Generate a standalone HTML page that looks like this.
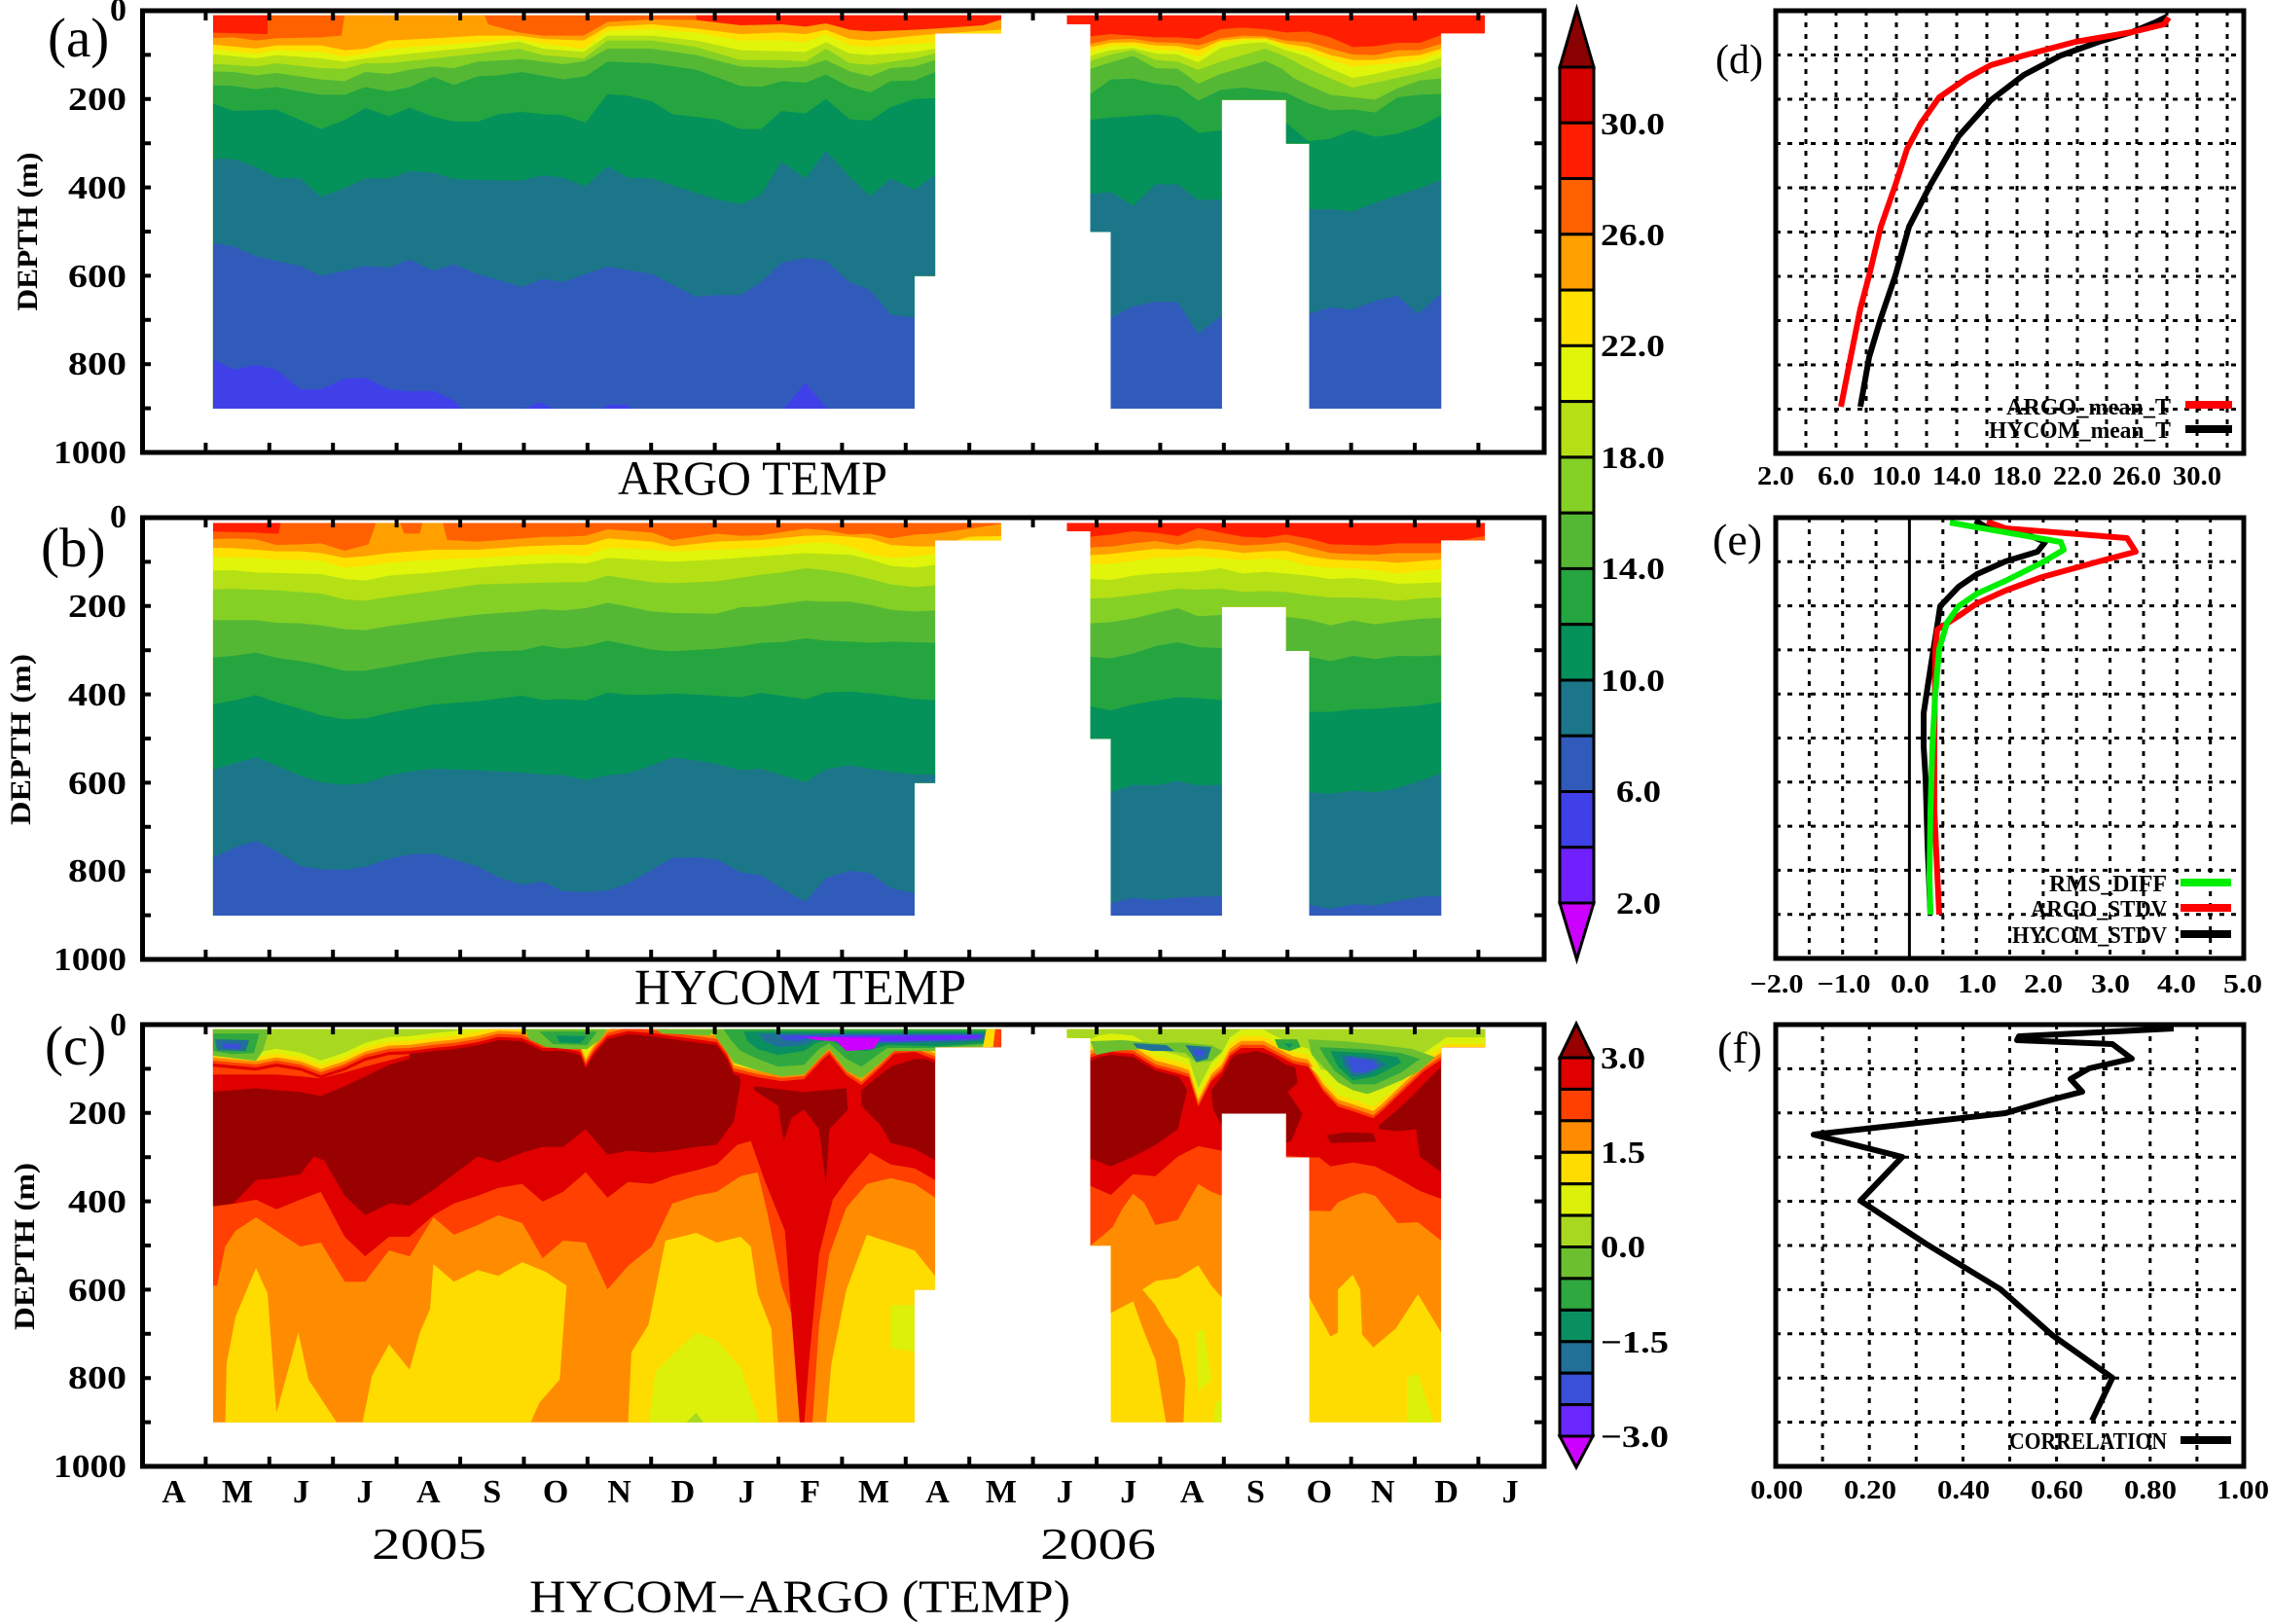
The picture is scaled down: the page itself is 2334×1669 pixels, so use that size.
<!DOCTYPE html>
<html><head><meta charset="utf-8"><style>
html,body{margin:0;padding:0;background:#fff;}
svg{display:block;}
text{font-family:"Liberation Serif",serif;}
</style></head><body>
<svg width="2334" height="1669" viewBox="0 0 2334 1669" xmlns="http://www.w3.org/2000/svg" xmlns:xlink="http://www.w3.org/1999/xlink">
<defs>
<clipPath id="ca1"><polygon points="312,47 1467,47 1467,103 1370,103 1370,851 1340,851 1340,1260 312,1260"/></clipPath>
<clipPath id="ca2"><polygon points="252,47 1375,47 1375,103 1257,103 1257,1260 903,1260 903,443 841,443 841,308 668,308 668,1260 370,1260 370,715 315,715 315,75 252,75"/></clipPath>
<clipPath id="cb1"><polygon points="312,52 1467,52 1467,106 1370,106 1370,854 1340,854 1340,1263 312,1263"/></clipPath>
<clipPath id="cb2"><polygon points="252,52 1375,52 1375,106 1257,106 1257,1263 903,1263 903,447 841,447 841,311 668,311 668,1263 370,1263 370,718 315,718 315,78 252,78"/></clipPath>
<clipPath id="cc1"><polygon points="312,44 1467,44 1467,90 1370,90 1370,711 1340,711 1340,1050 312,1050"/></clipPath>
<clipPath id="cc2"><polygon points="252,44 1375,44 1375,90 1257,90 1257,1050 903,1050 903,372 841,372 841,260 668,260 668,1050 370,1050 370,598 315,598 315,67 252,67"/></clipPath>
<polygon id="s1" points="300,0 300,140 312,140 342,145 375,150 405,140 440,150 470,170 505,150 535,125 570,110 600,108 635,100 665,95 700,85 730,72 765,75 795,100 825,100 850,110 858,145 870,110 890,70 920,57 955,62 985,70 1020,78 1050,85 1065,120 1075,160 1110,175 1145,185 1178,180 1205,130 1215,115 1240,170 1262,195 1290,150 1310,115 1340,110 1370,130 1440,130 1467,90 1480,90 1480,0"/>
<polygon id="s2" points="240,0 240,120 252,120 315,125 340,115 370,110 430,115 490,150 550,165 580,175 605,250 640,185 668,160 690,120 720,100 780,100 820,120 860,140 900,148 940,210 980,250 1020,262 1075,280 1100,260 1160,205 1210,160 1257,130 1270,120 1390,120 1390,0"/>
<g id="axfr">
<rect x="146.5" y="0" width="1440.5" height="454" fill="none" stroke="#000" stroke-width="5"/>
<path stroke="#000" stroke-width="4" fill="none" d="M211.4 0v10M276.8 0v10M342.2 0v10M407.6 0v10M473 0v10M538.4 0v10M603.8 0v10M669.2 0v10M734.6 0v10M800 0v10M865.4 0v10M930.8 0v10M996.2 0v10M1061.6 0v10M1127 0v10M1192.4 0v10M1257.8 0v10M1323.2 0v10M1388.6 0v10M1454 0v10M1519.4 0v10
M211.4 454v-10M276.8 454v-10M342.2 454v-10M407.6 454v-10M473 454v-10M538.4 454v-10M603.8 454v-10M669.2 454v-10M734.6 454v-10M800 454v-10M865.4 454v-10M930.8 454v-10M996.2 454v-10M1061.6 454v-10M1127 454v-10M1192.4 454v-10M1257.8 454v-10M1323.2 454v-10M1388.6 454v-10M1454 454v-10M1519.4 454v-10
M146 45.4h9M146 90.8h9M146 136.2h9M146 181.6h9M146 227h9M146 272.4h9M146 317.8h9M146 363.2h9M146 408.6h9
M1587 45.4h-10M1587 90.8h-10M1587 136.2h-10M1587 181.6h-10M1587 227h-10M1587 272.4h-10M1587 317.8h-10M1587 363.2h-10M1587 408.6h-10"/>
</g>
</defs>
<rect width="2334" height="1669" fill="#fff"/>

<!-- ===== Panel (a) segment 1 ===== -->
<g transform="matrix(0.7015 0 0 0.3333 0 0)"><g clip-path="url(#ca1)">
<rect x="290" y="0" width="1200" height="1400" fill="#ff6000"/>
<polygon fill="#ff1e00" points="300,40 392,40 392,105 300,100"/>
<polygon fill="#ff1e00" points="1020,40 1480,40 1480,70 1440,82 1370,95 1280,112 1240,100 1180,95 1100,102 1050,88 1020,60"/>
<polygon fill="#ffa000" points="300,118 342,115 375,125 405,118 470,115 500,110 505,47 710,47 715,75 760,100 795,110 855,110 890,68 955,60 1020,62 1085,78 1145,75 1180,82 1210,72 1245,92 1275,97 1340,92 1370,88 1440,78 1467,60 1480,55 1480,1400 300,1400"/>
<polygon fill="#ffe000" points="300,135 375,150 405,140 470,140 505,155 535,150 570,125 635,118 700,110 760,110 795,120 855,125 890,82 955,75 1020,88 1085,105 1145,100 1180,105 1210,92 1245,120 1275,125 1340,110 1370,105 1440,95 1480,90 1480,1400 300,1400"/>
<polygon fill="#e0f50a" points="300,150 375,165 405,155 470,160 505,175 535,165 570,150 635,140 700,130 760,120 795,135 855,150 890,95 955,90 1020,100 1085,125 1145,125 1180,130 1210,105 1245,140 1275,145 1340,135 1370,130 1480,130 1480,1400 300,1400"/>
<polygon fill="#b5e015" points="300,165 375,180 405,170 470,180 505,190 535,180 570,172 635,158 700,145 760,128 795,150 855,160 890,110 955,110 1020,125 1085,155 1145,158 1180,160 1210,130 1245,165 1275,170 1340,160 1370,150 1480,150 1480,1400 300,1400"/>
<polygon fill="#85d025" points="300,195 375,205 405,195 470,210 505,212 535,195 570,195 635,180 700,165 760,150 795,170 855,180 890,125 955,125 1020,145 1085,185 1145,185 1180,190 1210,150 1245,195 1275,200 1340,180 1370,165 1480,165 1480,1400 300,1400"/>
<polygon fill="#55b835" points="300,220 342,222 375,232 405,225 470,245 505,250 535,222 570,228 600,215 635,205 665,210 700,190 765,182 825,198 858,188 890,150 955,150 1020,170 1085,205 1145,210 1180,205 1210,185 1245,220 1275,235 1305,210 1340,205 1370,185 1480,185 1480,1400 300,1400"/>
<polygon fill="#25a540" points="300,262 342,265 375,275 405,268 440,282 470,292 505,292 535,268 570,282 600,268 635,237 665,262 700,235 730,232 765,222 825,245 858,235 890,190 955,195 1020,215 1085,265 1115,268 1145,250 1180,255 1210,230 1245,268 1275,285 1305,250 1340,248 1370,222 1480,222 1480,1400 300,1400"/>
<polygon fill="#05915a" points="300,310 342,342 405,338 440,370 470,398 505,370 535,333 570,358 600,332 635,360 665,375 700,375 730,352 765,345 795,352 825,355 858,378 890,290 920,295 955,312 985,352 1050,368 1085,398 1115,398 1145,342 1180,350 1210,305 1245,368 1275,372 1305,330 1340,305 1370,303 1480,303 1480,1400 300,1400"/>
<polygon fill="#1c768a" points="300,490 342,490 375,515 405,548 440,550 470,607 505,580 535,550 570,550 600,528 635,533 665,552 700,555 765,557 795,540 825,548 858,575 890,512 920,548 955,550 1020,595 1050,615 1085,630 1115,600 1145,498 1180,550 1210,465 1245,545 1275,605 1305,550 1340,585 1370,540 1480,540 1480,1400 300,1400"/>
<polygon fill="#305bbb" points="300,745 342,760 375,790 405,805 440,820 470,850 505,835 535,820 570,825 600,800 635,835 665,815 700,845 765,885 795,860 825,870 858,845 890,822 955,845 1020,915 1050,910 1085,910 1115,870 1145,810 1180,795 1210,805 1245,870 1275,895 1305,970 1340,980 1480,980 1480,1400 300,1400"/>
<polygon fill="#4040e8" points="300,1095 342,1140 375,1125 405,1140 440,1200 470,1200 505,1168 535,1165 570,1200 600,1207 635,1205 665,1235 680,1268 760,1268 790,1240 820,1268 880,1268 890,1248 920,1248 925,1268 1145,1268 1180,1180 1215,1268 1480,1268 1480,1400 300,1400"/>
</g></g>

<!-- ===== Panel (a) segment 2 ===== -->
<g transform="matrix(0.3827 0 0 0.3333 1000 0)"><g clip-path="url(#ca2)">
<rect x="240" y="0" width="1160" height="1400" fill="#ff1e00"/>
<polygon fill="#ff6000" points="240,103 315,112 370,105 430,110 490,115 550,115 605,120 665,90 725,85 785,90 840,100 900,97 960,115 1020,145 1080,142 1140,132 1200,132 1257,108 1390,108 1390,1400 240,1400"/>
<polygon fill="#ffa000" points="240,135 315,135 370,122 430,120 490,130 550,132 605,140 665,118 725,110 785,112 840,125 900,130 960,150 1020,168 1080,170 1140,155 1200,155 1257,135 1390,135 1390,1400 240,1400"/>
<polygon fill="#ffe000" points="240,145 315,145 370,132 430,130 490,140 550,142 605,155 665,125 725,118 785,118 840,135 900,145 960,170 1020,185 1080,185 1140,175 1200,170 1257,150 1390,150 1390,1400 240,1400"/>
<polygon fill="#e0f50a" points="240,158 315,158 370,142 430,140 490,155 550,155 605,175 665,132 725,124 785,122 840,145 900,160 960,185 1020,205 1080,200 1140,195 1200,185 1257,160 1390,160 1390,1400 240,1400"/>
<polygon fill="#b5e015" points="240,172 315,172 370,155 430,148 490,165 550,168 605,192 665,148 725,135 785,130 840,155 900,175 960,212 1020,240 1080,228 1140,212 1200,200 1257,178 1390,178 1390,1400 240,1400"/>
<polygon fill="#85d025" points="240,188 315,188 370,168 430,155 490,185 550,190 605,215 665,190 725,170 785,150 840,175 900,212 960,242 1020,270 1080,255 1140,240 1200,225 1257,205 1390,205 1390,1400 240,1400"/>
<polygon fill="#55b835" points="240,212 315,212 370,192 430,172 490,210 550,212 605,258 665,228 725,208 785,188 830,212 860,240 900,262 960,292 1020,300 1080,307 1140,272 1200,248 1257,242 1390,242 1390,1400 240,1400"/>
<polygon fill="#25a540" points="240,290 315,290 370,245 430,242 490,258 550,265 605,310 665,277 725,270 785,278 840,285 900,318 960,340 1020,337 1080,347 1140,300 1200,292 1257,290 1390,290 1390,1400 240,1400"/>
<polygon fill="#05915a" points="240,370 315,370 370,362 430,358 490,352 550,362 605,410 665,402 760,390 841,378 900,435 960,428 1020,400 1080,422 1140,412 1200,390 1257,355 1390,355 1390,1400 240,1400"/>
<polygon fill="#1c768a" points="240,598 315,598 370,592 430,635 490,568 550,568 605,617 665,615 780,630 903,645 960,645 1020,652 1080,625 1140,602 1200,580 1257,555 1390,555 1390,1400 240,1400"/>
<polygon fill="#305bbb" points="240,980 370,980 430,945 490,930 550,932 605,1030 665,975 780,970 903,968 960,948 1020,955 1080,928 1140,912 1195,968 1257,905 1390,905 1390,1400 240,1400"/>
</g></g>

<!-- ===== Panel (b) segment 1 ===== -->
<g transform="matrix(0.7015 0 0 0.3333 0 520)"><g clip-path="url(#cb1)">
<rect x="290" y="0" width="1200" height="1400" fill="#ff6000"/>
<polygon fill="#ff1e00" points="300,45 412,45 408,86 375,82 300,78"/>
<polygon fill="#ffa000" points="300,103 342,100 375,103 405,120 440,118 470,115 505,138 540,118 552,45 648,45 655,105 700,110 765,100 795,95 825,95 858,92 890,72 955,82 985,105 1050,85 1085,92 1115,90 1180,70 1210,75 1245,88 1275,85 1305,100 1340,88 1370,85 1420,70 1467,55 1480,55 1480,1400 300,1400"/>
<polygon fill="#ff6000" points="585,45 620,45 615,85 592,85"/>
<polygon fill="#ffe000" points="300,128 342,130 375,135 405,140 440,140 470,145 505,160 535,155 570,145 635,135 700,135 765,125 825,120 858,120 890,100 955,110 985,125 1050,110 1115,105 1180,92 1210,90 1245,95 1275,100 1305,120 1340,125 1370,125 1420,95 1480,92 1480,1400 300,1400"/>
<polygon fill="#e0f50a" points="300,155 342,158 375,160 405,165 470,168 505,190 535,185 570,175 635,165 700,160 765,152 825,148 858,155 890,128 955,135 985,140 1050,135 1115,130 1180,115 1210,112 1245,125 1275,150 1305,160 1340,155 1370,148 1480,148 1480,1400 300,1400"/>
<polygon fill="#b5e015" points="300,200 342,198 375,205 470,210 505,225 535,230 570,215 635,205 700,190 765,180 825,175 858,178 890,160 955,168 985,172 1050,165 1115,155 1180,145 1210,148 1245,150 1275,165 1305,185 1340,190 1370,182 1480,182 1480,1400 300,1400"/>
<polygon fill="#85d025" points="300,258 342,255 375,258 405,260 470,270 505,288 535,292 570,280 635,262 700,242 765,238 825,235 858,235 890,215 955,235 985,238 1050,232 1115,212 1145,205 1180,192 1210,198 1245,210 1275,225 1305,242 1340,250 1370,245 1480,245 1480,1400 300,1400"/>
<polygon fill="#55b835" points="300,352 375,352 405,360 440,362 470,368 505,380 535,383 570,370 635,352 700,335 765,325 795,318 825,322 858,315 890,298 955,325 985,330 1050,332 1085,312 1115,310 1180,292 1210,295 1245,295 1275,305 1305,320 1340,325 1370,322 1480,322 1480,1400 300,1400"/>
<polygon fill="#25a540" points="300,470 342,462 375,452 405,468 440,478 470,490 505,508 535,508 570,495 635,470 700,450 765,445 795,430 825,440 858,432 890,415 955,443 985,448 1050,440 1085,432 1115,422 1145,420 1180,408 1210,415 1245,418 1275,422 1305,418 1340,420 1370,422 1480,422 1480,1400 300,1400"/>
<polygon fill="#05915a" points="300,615 342,600 375,583 405,605 440,625 470,645 505,658 535,655 570,638 635,612 700,602 765,585 795,598 825,595 858,600 890,575 920,582 955,582 985,578 1050,585 1085,590 1115,576 1145,585 1180,596 1210,575 1245,572 1275,578 1305,585 1340,595 1370,598 1480,598 1480,1400 300,1400"/>
<polygon fill="#1c768a" points="300,820 342,795 375,775 405,800 440,832 470,852 505,860 535,855 570,830 600,820 635,810 700,815 765,822 795,828 825,830 858,845 890,830 920,825 955,800 985,775 1020,785 1050,795 1085,815 1115,810 1145,830 1180,852 1210,812 1245,800 1275,810 1305,820 1340,828 1480,828 1480,1400 300,1400"/>
<polygon fill="#305bbb" points="300,1097 342,1055 375,1032 405,1065 440,1110 470,1120 505,1122 535,1112 570,1088 600,1075 635,1072 665,1090 700,1112 730,1145 765,1168 795,1158 825,1188 858,1190 890,1185 920,1165 955,1122 985,1085 1020,1083 1050,1090 1085,1130 1115,1138 1145,1180 1180,1220 1210,1148 1245,1125 1275,1132 1305,1178 1340,1195 1480,1195 1480,1400 300,1400"/>
</g></g>

<!-- ===== Panel (b) segment 2 ===== -->
<g transform="matrix(0.3827 0 0 0.3333 1000 520)"><g clip-path="url(#cb2)">
<rect x="240" y="0" width="1160" height="1400" fill="#ff1e00"/>
<polygon fill="#ff6000" points="240,78 315,95 370,88 430,78 490,83 550,93 605,68 665,82 725,95 785,98 840,88 900,100 960,118 1020,120 1080,122 1140,115 1200,115 1257,115 1320,104 1375,92 1390,92 1390,1400 240,1400"/>
<polygon fill="#ffa000" points="240,128 315,128 370,125 430,115 490,108 550,120 605,105 665,112 725,122 785,118 840,112 900,128 960,145 1020,148 1080,150 1140,145 1200,145 1257,145 1390,145 1390,1400 240,1400"/>
<polygon fill="#ffe000" points="240,152 315,152 370,148 430,140 490,132 550,135 605,130 665,135 725,145 785,140 840,138 900,155 960,165 1020,168 1080,170 1140,175 1200,170 1257,165 1390,165 1390,1400 240,1400"/>
<polygon fill="#e0f50a" points="240,180 315,180 370,178 430,170 490,160 550,158 605,155 665,160 725,168 785,162 840,165 900,185 960,190 1020,192 1080,198 1140,208 1200,200 1257,195 1390,195 1390,1400 240,1400"/>
<polygon fill="#b5e015" points="240,225 315,225 370,228 430,215 490,208 550,205 605,202 665,192 725,208 785,203 840,208 900,215 960,225 1020,222 1080,228 1140,240 1200,238 1257,235 1390,235 1390,1400 240,1400"/>
<polygon fill="#85d025" points="240,285 315,285 370,283 430,275 490,265 550,255 605,258 665,255 725,265 785,262 840,265 900,275 960,282 1020,282 1080,285 1140,292 1200,285 1257,282 1390,282 1390,1400 240,1400"/>
<polygon fill="#55b835" points="240,362 315,362 370,358 430,347 490,330 550,315 605,340 665,336 841,342 900,350 960,368 1020,353 1080,365 1140,356 1200,348 1257,345 1390,345 1390,1400 240,1400"/>
<polygon fill="#25a540" points="240,465 315,465 370,470 430,455 490,432 550,420 605,435 665,438 841,445 903,465 960,478 1020,462 1080,472 1140,462 1200,463 1257,460 1390,460 1390,1400 240,1400"/>
<polygon fill="#05915a" points="240,618 315,618 370,630 430,612 490,600 550,590 605,592 665,598 903,635 960,635 1020,627 1080,625 1140,620 1200,615 1257,605 1390,605 1390,1400 240,1400"/>
<polygon fill="#1c768a" points="240,883 370,883 430,860 490,862 550,848 605,862 665,860 903,883 960,888 1020,878 1080,883 1140,870 1200,848 1257,825 1390,825 1390,1400 240,1400"/>
<polygon fill="#305bbb" points="240,1225 370,1225 430,1208 490,1215 550,1208 605,1205 665,1203 903,1230 960,1242 1020,1228 1080,1232 1140,1218 1200,1205 1257,1203 1390,1203 1390,1400 240,1400"/>
</g></g>

<!-- ===== Panel (c) segment 1 ===== -->
<g transform="matrix(0.7015 0 0 0.4018 0 1040)"><g clip-path="url(#cc1)">
<rect x="290" y="0" width="1200" height="1100" fill="#ff8c00"/>
<polygon fill="#ffdc00" points="330,1060 332,900 345,780 375,655 392,720 405,1025 420,930 437,820 452,940 497,1060"/>
<polygon fill="#ffdc00" points="530,1060 545,930 570,850 600,915 615,820 630,760 635,645 665,690 700,660 730,675 765,640 800,665 830,700 820,940 790,1000 775,1060"/>
<polygon fill="#ffdc00" points="920,1060 925,870 950,800 975,585 1020,565 1050,590 1085,575 1100,600 1110,720 1130,810 1140,1060"/>
<polygon fill="#ffdc00" points="1210,1060 1218,900 1240,710 1270,570 1305,590 1340,610 1372,680 1372,1060"/>
<polygon fill="#dcf00a" points="950,1060 960,920 1020,820 1050,840 1085,910 1115,1060"/>
<polygon fill="#dcf00a" points="1305,750 1345,750 1345,870 1305,860"/>
<polygon fill="#a8d820" points="1000,1060 1020,1025 1035,1060"/>
<polygon fill="#ff4000" points="300,0 1480,0 1480,475 1370,475 1340,440 1305,425 1270,440 1240,500 1215,620 1200,800 1190,1060 1178,1060 1165,800 1145,700 1125,520 1110,410 1085,420 1050,460 1020,470 985,490 955,600 920,650 890,710 858,590 825,585 795,630 765,540 730,520 700,545 665,570 635,525 600,625 570,610 535,690 505,690 470,590 440,600 405,560 375,525 345,560 330,600 318,700 300,700"/>
<polygon fill="#e00000" points="300,0 1480,0 1480,430 1370,430 1340,400 1305,390 1275,360 1245,420 1220,480 1200,620 1185,900 1178,1060 1172,1060 1150,560 1120,430 1100,330 1080,340 1050,390 1020,405 985,420 955,440 920,435 890,475 858,410 825,460 795,485 765,440 730,450 700,470 665,490 635,520 600,575 570,575 535,625 505,575 470,460 440,480 405,505 375,480 345,490 300,500"/>
<polygon fill="#990000" points="300,0 1080,0 1080,140 1085,180 1075,280 1050,340 1020,345 985,355 955,360 920,355 890,365 858,300 825,345 795,345 765,360 730,385 700,370 665,415 635,455 600,495 570,490 535,520 505,470 475,380 460,370 440,415 405,425 375,430 342,490 300,500"/>
<polygon fill="#990000" points="1105,190 1178,205 1240,195 1242,250 1215,300 1210,440 1200,300 1178,250 1160,270 1148,330 1140,240 1105,200"/>
<polygon fill="#990000" points="1262,200 1290,160 1305,140 1340,120 1480,120 1480,380 1370,380 1340,350 1305,335 1290,290 1262,240"/>
<polygon fill="#e00000" points="300,130 600,100 600,120 570,135 535,165 505,190 470,215 440,205 405,200 375,195 342,200 300,205"/>
<polygon fill="#ff4000" points="300,130 600,100 600,110 535,140 505,155 470,170 440,165 405,160 375,160 342,160 300,160"/>
<use xlink:href="#s1" fill="#e00000"/>
<use xlink:href="#s1" fill="#ff4000" transform="translate(0,-8)"/>
<use xlink:href="#s1" fill="#ff8c00" transform="translate(0,-16)"/>
<use xlink:href="#s1" fill="#ffdc00" transform="translate(0,-24)"/>
<use xlink:href="#s1" fill="#dcf00a" transform="translate(0,-34)"/>
<use xlink:href="#s1" fill="#a8d820" transform="translate(0,-46)"/>
<polygon fill="#6cc030" points="312,44 395,44 385,100 375,125 340,118 312,112"/>
<polygon fill="#30a840" points="312,55 380,55 372,105 340,108 312,100"/>
<polygon fill="#207098" points="315,70 365,72 360,100 318,98"/>
<polygon fill="#3a50d8" points="325,80 355,82 350,95 328,93"/>
<polygon fill="#6cc030" points="770,44 890,44 880,70 860,95 830,95 800,90 775,70"/>
<polygon fill="#30a840" points="790,50 875,50 860,85 810,82"/>
<polygon fill="#0a9060" points="815,60 860,62 850,80 820,78"/>
<polygon fill="#6cc030" points="960,44 1050,44 1040,60 970,55"/>
<polygon fill="#6cc030" points="1040,44 1467,44 1467,85 1370,100 1310,100 1290,130 1262,170 1240,150 1215,95 1205,110 1178,160 1145,165 1110,150 1075,130 1060,90"/>
<polygon fill="#30a840" points="1060,44 1467,44 1460,80 1370,92 1300,92 1262,140 1240,120 1215,80 1200,95 1178,135 1140,140 1110,120 1085,100 1070,70"/>
<polygon fill="#0a9060" points="1090,50 1460,50 1450,78 1370,88 1300,85 1270,100 1240,95 1215,70 1195,80 1178,100 1140,110 1110,95 1095,75"/>
<polygon fill="#207098" points="1110,55 1450,55 1445,72 1400,78 1300,80 1240,85 1215,62 1195,70 1178,85 1140,90 1120,75"/>
<polygon fill="#3a50d8" points="1140,60 1440,58 1435,70 1300,78 1240,80 1215,58 1195,62 1170,75 1150,72"/>
<polygon fill="#6a28ff" points="1160,62 1440,60 1430,68 1300,75 1240,75 1210,62 1180,68"/>
<polygon fill="#cc00ff" points="1180,64 1290,66 1280,95 1240,100 1225,75 1195,72"/>
<polygon fill="#ffdc00" points="1445,44 1467,44 1467,90 1440,90"/>
<polygon fill="#ff4000" points="1458,44 1467,44 1467,90 1455,90"/>
</g></g>

<!-- ===== Panel (c) segment 2 ===== -->
<g transform="matrix(0.3827 0 0 0.4018 1000 1040)"><g clip-path="url(#cc2)">
<rect x="240" y="0" width="1160" height="1100" fill="#ffdc00"/>
<polygon fill="#ff8c00" points="240,0 1390,0 1390,820 1257,820 1195,722 1135,810 1075,858 1045,825 1040,710 1020,672 980,710 980,820 960,830 903,730 668,730 640,700 605,648 550,680 490,688 455,710 430,740 370,770 315,598 240,598"/>
<polygon fill="#ff8c00" points="430,740 455,710 490,750 520,800 550,840 570,940 565,1060 520,1060 490,890 460,820"/>
<polygon fill="#dcf00a" points="600,820 620,810 640,940 605,970"/>
<polygon fill="#dcf00a" points="1165,935 1195,925 1240,1060 1165,1060"/>
<polygon fill="#dcf00a" points="650,1000 668,990 668,1060 645,1060"/>
<polygon fill="#ff4000" points="240,0 1390,0 1390,585 1257,585 1195,538 1140,540 1110,505 1080,470 1050,462 1020,470 980,487 960,510 903,508 668,470 640,460 605,440 550,532 490,545 460,488 430,465 400,505 375,550 345,575 315,598 240,598"/>
<polygon fill="#e00000" points="240,0 1390,0 1390,478 1257,478 1200,458 1140,425 1080,395 1020,385 960,395 930,372 903,372 668,355 605,343 550,370 490,420 430,415 370,468 315,445 240,445"/>
<polygon fill="#990000" points="315,100 370,100 430,100 490,140 550,160 575,200 560,260 550,300 490,340 430,370 370,395 315,375"/>
<polygon fill="#990000" points="640,200 668,165 700,110 760,100 800,110 840,135 865,140 872,180 845,205 885,260 855,330 841,335 841,260 668,260 668,290 645,250"/>
<polygon fill="#990000" points="950,315 1000,308 1075,310 1082,332 960,335"/>
<polygon fill="#990000" points="1090,290 1140,250 1180,215 1220,175 1257,140 1257,410 1200,370 1190,300 1140,305 1090,300"/>
<use xlink:href="#s2" fill="#e00000"/>
<use xlink:href="#s2" fill="#ff4000" transform="translate(0,-8)"/>
<use xlink:href="#s2" fill="#ff8c00" transform="translate(0,-16)"/>
<use xlink:href="#s2" fill="#ffdc00" transform="translate(0,-26)"/>
<use xlink:href="#s2" fill="#dcf00a" transform="translate(0,-38)"/>
<use xlink:href="#s2" fill="#a8d820" transform="translate(0,-55)"/>
<polygon fill="#dcf00a" points="903,140 960,190 1020,225 1075,235 1110,215 1150,185 1090,170 1000,160"/>
<polygon fill="#6cc030" points="315,75 400,72 490,80 560,78 640,85 670,100 640,125 600,130 570,105 520,100 450,95 380,100 330,110"/>
<polygon fill="#207098" points="430,80 520,85 540,100 480,100 440,92"/>
<polygon fill="#207098" points="570,85 640,90 630,120 600,128 585,105"/>
<polygon fill="#3a50d8" points="590,95 625,98 615,115 598,112"/>
<polygon fill="#30a840" points="810,70 870,70 880,90 850,100 820,92"/>
<polygon fill="#0a9060" points="835,80 860,82 850,92"/>
<polygon fill="#6cc030" points="900,70 1000,75 1100,85 1180,95 1240,115 1200,150 1150,175 1100,195 1060,210 1020,200 980,180 940,140 910,110"/>
<polygon fill="#30a840" points="930,90 1050,95 1150,105 1200,120 1150,155 1080,185 1020,185 970,150 945,115"/>
<polygon fill="#0a9060" points="960,100 1060,105 1140,115 1150,130 1080,165 1020,175 980,140"/>
<polygon fill="#207098" points="990,110 1080,118 1110,135 1060,160 1020,165 995,135"/>
<polygon fill="#3a50d8" points="1005,115 1075,125 1090,140 1050,155 1020,155"/>
</g></g>

<!-- frames for a, b, c -->
<use xlink:href="#axfr" transform="translate(0,11)"/>
<use xlink:href="#axfr" transform="translate(0,532)"/>
<use xlink:href="#axfr" transform="translate(0,1053)"/>

<!-- y labels -->
<g font-size="34" font-weight="bold" text-anchor="end">
<text x="130" y="21">0</text>
<text x="130" y="113" textLength="60" lengthAdjust="spacingAndGlyphs">200</text>
<text x="130" y="204" textLength="60" lengthAdjust="spacingAndGlyphs">400</text>
<text x="130" y="295" textLength="60" lengthAdjust="spacingAndGlyphs">600</text>
<text x="130" y="385" textLength="60" lengthAdjust="spacingAndGlyphs">800</text>
<text x="130" y="476" textLength="75" lengthAdjust="spacingAndGlyphs">1000</text>
<text x="130" y="542">0</text>
<text x="130" y="634" textLength="60" lengthAdjust="spacingAndGlyphs">200</text>
<text x="130" y="725" textLength="60" lengthAdjust="spacingAndGlyphs">400</text>
<text x="130" y="816" textLength="60" lengthAdjust="spacingAndGlyphs">600</text>
<text x="130" y="906" textLength="60" lengthAdjust="spacingAndGlyphs">800</text>
<text x="130" y="997" textLength="75" lengthAdjust="spacingAndGlyphs">1000</text>
<text x="130" y="1064">0</text>
<text x="130" y="1155" textLength="60" lengthAdjust="spacingAndGlyphs">200</text>
<text x="130" y="1246" textLength="60" lengthAdjust="spacingAndGlyphs">400</text>
<text x="130" y="1337" textLength="60" lengthAdjust="spacingAndGlyphs">600</text>
<text x="130" y="1427" textLength="60" lengthAdjust="spacingAndGlyphs">800</text>
<text x="130" y="1518" textLength="75" lengthAdjust="spacingAndGlyphs">1000</text>
</g>
<g font-size="30" font-weight="bold" text-anchor="middle">
<text transform="translate(38,238) rotate(-90)" textLength="163" lengthAdjust="spacingAndGlyphs">DEPTH (m)</text>
<text transform="translate(31,760) rotate(-90)" textLength="176" lengthAdjust="spacingAndGlyphs">DEPTH (m)</text>
<text transform="translate(35,1281) rotate(-90)" textLength="172" lengthAdjust="spacingAndGlyphs">DEPTH (m)</text>
</g>
<g font-size="57">
<text x="49" y="58">(a)</text>
<text x="42" y="582">(b)</text>
<text x="46" y="1094">(c)</text>
</g>
<text x="635" y="508" font-size="50" textLength="277" lengthAdjust="spacingAndGlyphs">ARGO TEMP</text>
<text x="652" y="1032" font-size="52" textLength="341" lengthAdjust="spacingAndGlyphs">HYCOM TEMP</text>
<text x="544" y="1657" font-size="48" textLength="556" lengthAdjust="spacingAndGlyphs">HYCOM−ARGO (TEMP)</text>
<text x="382" y="1602" font-size="46" textLength="118" lengthAdjust="spacingAndGlyphs">2005</text>
<text x="1069" y="1602" font-size="46" textLength="119" lengthAdjust="spacingAndGlyphs">2006</text>
<g font-size="34" font-weight="bold" text-anchor="middle">
<text x="178.7" y="1544">A</text><text x="244.1" y="1544">M</text><text x="309.5" y="1544">J</text><text x="374.9" y="1544">J</text>
<text x="440.3" y="1544">A</text><text x="505.7" y="1544">S</text><text x="571.1" y="1544">O</text><text x="636.5" y="1544">N</text>
<text x="701.9" y="1544">D</text><text x="767.3" y="1544">J</text><text x="832.7" y="1544">F</text><text x="898.1" y="1544">M</text>
<text x="963.5" y="1544">A</text><text x="1028.9" y="1544">M</text><text x="1094.3" y="1544">J</text><text x="1159.7" y="1544">J</text>
<text x="1225.1" y="1544">A</text><text x="1290.5" y="1544">S</text><text x="1355.9" y="1544">O</text><text x="1421.3" y="1544">N</text>
<text x="1486.7" y="1544">D</text><text x="1552.1" y="1544">J</text>
</g>

<!-- colorbar 1 -->
<g stroke="#000" stroke-width="3">
<polygon points="1620.5,9 1638,69 1603,69" fill="#8b0000"/>
<rect x="1603" y="69" width="35" height="57.3" fill="#d40000"/>
<rect x="1603" y="126.3" width="35" height="57.3" fill="#ff1e00"/>
<rect x="1603" y="183.5" width="35" height="57.3" fill="#ff6000"/>
<rect x="1603" y="240.8" width="35" height="57.3" fill="#ffa000"/>
<rect x="1603" y="298.1" width="35" height="57.3" fill="#ffe000"/>
<rect x="1603" y="355.3" width="35" height="57.3" fill="#e0f50a"/>
<rect x="1603" y="412.6" width="35" height="57.3" fill="#b5e015"/>
<rect x="1603" y="469.9" width="35" height="57.3" fill="#85d025"/>
<rect x="1603" y="527.2" width="35" height="57.3" fill="#55b835"/>
<rect x="1603" y="584.4" width="35" height="57.3" fill="#25a540"/>
<rect x="1603" y="641.7" width="35" height="57.3" fill="#05915a"/>
<rect x="1603" y="699" width="35" height="57.3" fill="#1c768a"/>
<rect x="1603" y="756.2" width="35" height="57.3" fill="#305bbb"/>
<rect x="1603" y="813.5" width="35" height="57.3" fill="#4040e8"/>
<rect x="1603" y="870.8" width="35" height="57.3" fill="#7020ff"/>
<polygon points="1603,928 1638,928 1620.5,986" fill="#cc00ff"/>
</g>
<g font-size="32" font-weight="bold" text-anchor="end">
<text x="1711" y="138" textLength="66" lengthAdjust="spacingAndGlyphs">30.0</text>
<text x="1711" y="252" textLength="66" lengthAdjust="spacingAndGlyphs">26.0</text>
<text x="1711" y="366" textLength="66" lengthAdjust="spacingAndGlyphs">22.0</text>
<text x="1711" y="481" textLength="66" lengthAdjust="spacingAndGlyphs">18.0</text>
<text x="1711" y="595" textLength="66" lengthAdjust="spacingAndGlyphs">14.0</text>
<text x="1711" y="710" textLength="66" lengthAdjust="spacingAndGlyphs">10.0</text>
<text x="1707" y="824" textLength="46" lengthAdjust="spacingAndGlyphs">6.0</text>
<text x="1707" y="939" textLength="46" lengthAdjust="spacingAndGlyphs">2.0</text>
</g>

<!-- colorbar 2 -->
<g stroke="#000" stroke-width="3">
<polygon points="1620,1052 1637,1087 1603,1087" fill="#990000"/>
<rect x="1603" y="1087" width="34" height="32.4" fill="#e00000"/>
<rect x="1603" y="1119.4" width="34" height="32.4" fill="#ff4000"/>
<rect x="1603" y="1151.8" width="34" height="32.4" fill="#ff8c00"/>
<rect x="1603" y="1184.3" width="34" height="32.4" fill="#ffdc00"/>
<rect x="1603" y="1216.7" width="34" height="32.4" fill="#dcf00a"/>
<rect x="1603" y="1249.1" width="34" height="32.4" fill="#a8d820"/>
<rect x="1603" y="1281.5" width="34" height="32.4" fill="#6cc030"/>
<rect x="1603" y="1313.9" width="34" height="32.4" fill="#30a840"/>
<rect x="1603" y="1346.4" width="34" height="32.4" fill="#0a9060"/>
<rect x="1603" y="1378.8" width="34" height="32.4" fill="#207098"/>
<rect x="1603" y="1411.2" width="34" height="32.4" fill="#3a50d8"/>
<rect x="1603" y="1443.6" width="34" height="32.4" fill="#6a28ff"/>
<polygon points="1603,1476 1637,1476 1620,1508" fill="#cc00ff"/>
</g>
<g font-size="32" font-weight="bold">
<text x="1645" y="1098" textLength="46" lengthAdjust="spacingAndGlyphs">3.0</text>
<text x="1645" y="1195" textLength="46" lengthAdjust="spacingAndGlyphs">1.5</text>
<text x="1645" y="1292" textLength="46" lengthAdjust="spacingAndGlyphs">0.0</text>
<text x="1645" y="1390" textLength="70" lengthAdjust="spacingAndGlyphs">−1.5</text>
<text x="1645" y="1487" textLength="70" lengthAdjust="spacingAndGlyphs">−3.0</text>
</g>

<!-- ===== Panel (d) ===== -->
<g fill="none" stroke="#000" stroke-width="3" stroke-dasharray="5 7">
<path d="M1825 56.5H2306M1825 102H2306M1825 147.5H2306M1825 193H2306M1825 238.5H2306M1825 284H2306M1825 329.5H2306M1825 375H2306M1825 420.5H2306"/>
<path d="M1856 11V466M1887 11V466M1918 11V466M1949 11V466M1980 11V466M2011 11V466M2042 11V466M2073 11V466M2104 11V466M2135 11V466M2165 11V466M2196 11V466M2227 11V466M2258 11V466M2289 11V466"/>
</g>
<polyline fill="none" stroke="#000" stroke-width="6" stroke-linejoin="round" points="2227,17 2215,23 2191,33 2157,43 2118,57 2080,77 2046,103 2013,140 1984,190 1962,233 1948,283 1933,327 1921,367 1912,418"/>
<polyline fill="none" stroke="#ff0000" stroke-width="6" stroke-linejoin="round" points="2229,18 2224,25 2191,33 2133,43 2080,57 2046,67 2022,80 1993,100 1974,127 1960,153 1948,190 1933,233 1921,283 1912,317 1902,367 1892,418"/>
<rect x="1825" y="11" width="481" height="455" fill="none" stroke="#000" stroke-width="5"/>
<text x="1763" y="75" font-size="42">(d)</text>
<g font-size="24" font-weight="bold" text-anchor="end">
<text x="2231" y="426" textLength="169" lengthAdjust="spacingAndGlyphs">ARGO_mean_T</text>
<text x="2231" y="450" textLength="187" lengthAdjust="spacingAndGlyphs">HYCOM_mean_T</text>
</g>
<path d="M2246 416H2294" stroke="#ff0000" stroke-width="8"/>
<path d="M2246 441H2294" stroke="#000" stroke-width="8"/>
<g font-size="27" font-weight="bold" text-anchor="middle">
<text x="1825" y="498" textLength="38" lengthAdjust="spacingAndGlyphs">2.0</text>
<text x="1887" y="498" textLength="38" lengthAdjust="spacingAndGlyphs">6.0</text>
<text x="1949" y="498" textLength="50" lengthAdjust="spacingAndGlyphs">10.0</text>
<text x="2011" y="498" textLength="50" lengthAdjust="spacingAndGlyphs">14.0</text>
<text x="2073" y="498" textLength="50" lengthAdjust="spacingAndGlyphs">18.0</text>
<text x="2135" y="498" textLength="50" lengthAdjust="spacingAndGlyphs">22.0</text>
<text x="2196" y="498" textLength="50" lengthAdjust="spacingAndGlyphs">26.0</text>
<text x="2258" y="498" textLength="50" lengthAdjust="spacingAndGlyphs">30.0</text>
</g>

<!-- ===== Panel (e) ===== -->
<g fill="none" stroke="#000" stroke-width="3" stroke-dasharray="5 7">
<path d="M1825 577.3H2306M1825 622.6H2306M1825 667.9H2306M1825 713.2H2306M1825 758.5H2306M1825 803.8H2306M1825 849.1H2306M1825 894.4H2306M1825 939.7H2306"/>
<path d="M1859.4 532V985M1893.7 532V985M1928.1 532V985M1996.8 532V985M2031.2 532V985M2065.5 532V985M2099.9 532V985M2134.2 532V985M2168.6 532V985M2203 532V985M2237.3 532V985M2271.7 532V985"/>
</g>
<path d="M1962.4 532V985" stroke="#000" stroke-width="3"/>
<polyline fill="none" stroke="#000" stroke-width="6" stroke-linejoin="round" points="2030,535 2040,541 2085,550 2102,557 2094,567 2061,577 2032,590 2013,603 1994,623 1991,643 1984,687 1977,733 1977,767 1979,800 1981,867 1984,940"/>
<polyline fill="none" stroke="#ff0000" stroke-width="6" stroke-linejoin="round" points="2042,536 2061,543 2186,553 2195,567 2157,577 2099,593 2061,607 2032,620 2013,633 1991,647 1989,667 1988,767 1988,833 1993,940"/>
<polyline fill="none" stroke="#00ee00" stroke-width="6" stroke-linejoin="round" points="2004,537 2032,542 2118,557 2121,565 2099,578 2061,597 2032,610 2013,623 2001,640 1993,667 1989,713 1986,767 1984,833 1983,900 1984,940"/>
<rect x="1825" y="532" width="481" height="453" fill="none" stroke="#000" stroke-width="5"/>
<text x="1760" y="570" font-size="46">(e)</text>
<g font-size="24" font-weight="bold" text-anchor="end">
<text x="2227" y="916" textLength="121" lengthAdjust="spacingAndGlyphs">RMS_DIFF</text>
<text x="2227" y="942" textLength="140" lengthAdjust="spacingAndGlyphs">ARGO_STDV</text>
<text x="2227" y="969" textLength="159" lengthAdjust="spacingAndGlyphs">HYCOM_STDV</text>
</g>
<path d="M2241 907H2293" stroke="#00ee00" stroke-width="8"/>
<path d="M2241 933H2293" stroke="#ff0000" stroke-width="8"/>
<path d="M2241 960H2293" stroke="#000" stroke-width="8"/>
<g font-size="27" font-weight="bold" text-anchor="middle">
<text x="1826" y="1020" textLength="55" lengthAdjust="spacingAndGlyphs">−2.0</text>
<text x="1895" y="1020" textLength="55" lengthAdjust="spacingAndGlyphs">−1.0</text>
<text x="1963" y="1020" textLength="40" lengthAdjust="spacingAndGlyphs">0.0</text>
<text x="2032" y="1020" textLength="40" lengthAdjust="spacingAndGlyphs">1.0</text>
<text x="2100" y="1020" textLength="40" lengthAdjust="spacingAndGlyphs">2.0</text>
<text x="2169" y="1020" textLength="40" lengthAdjust="spacingAndGlyphs">3.0</text>
<text x="2237" y="1020" textLength="40" lengthAdjust="spacingAndGlyphs">4.0</text>
<text x="2305" y="1020" textLength="40" lengthAdjust="spacingAndGlyphs">5.0</text>
</g>

<!-- ===== Panel (f) ===== -->
<g fill="none" stroke="#000" stroke-width="3" stroke-dasharray="5 7">
<path d="M1825 1098.4H2306M1825 1143.8H2306M1825 1189.2H2306M1825 1234.6H2306M1825 1280H2306M1825 1325.4H2306M1825 1370.8H2306M1825 1416.2H2306M1825 1461.6H2306"/>
<path d="M1873.1 1053V1507M1921.2 1053V1507M1969.3 1053V1507M2017.4 1053V1507M2065.5 1053V1507M2113.6 1053V1507M2161.7 1053V1507M2209.8 1053V1507M2257.9 1053V1507"/>
</g>
<polyline fill="none" stroke="#000" stroke-width="6" stroke-linejoin="round" points="2234,1057 2075,1065 2073,1069 2171,1073 2191,1088 2147,1098 2128,1109 2140,1122 2109,1130 2061,1144 1864,1166 1955,1189 1912,1234 1979,1278 2056,1325 2109,1372 2171,1416 2150,1460"/>
<rect x="1825" y="1053" width="481" height="454" fill="none" stroke="#000" stroke-width="5"/>
<text x="1765" y="1092" font-size="46">(f)</text>
<text x="2227" y="1489" font-size="24" font-weight="bold" text-anchor="end" textLength="162" lengthAdjust="spacingAndGlyphs">CORRELATION</text>
<path d="M2241 1480H2293" stroke="#000" stroke-width="8"/>
<g font-size="27" font-weight="bold" text-anchor="middle">
<text x="1826" y="1540" textLength="54" lengthAdjust="spacingAndGlyphs">0.00</text>
<text x="1922" y="1540" textLength="54" lengthAdjust="spacingAndGlyphs">0.20</text>
<text x="2018" y="1540" textLength="54" lengthAdjust="spacingAndGlyphs">0.40</text>
<text x="2114" y="1540" textLength="54" lengthAdjust="spacingAndGlyphs">0.60</text>
<text x="2210" y="1540" textLength="54" lengthAdjust="spacingAndGlyphs">0.80</text>
<text x="2305" y="1540" textLength="54" lengthAdjust="spacingAndGlyphs">1.00</text>
</g>
</svg>
</body></html>
